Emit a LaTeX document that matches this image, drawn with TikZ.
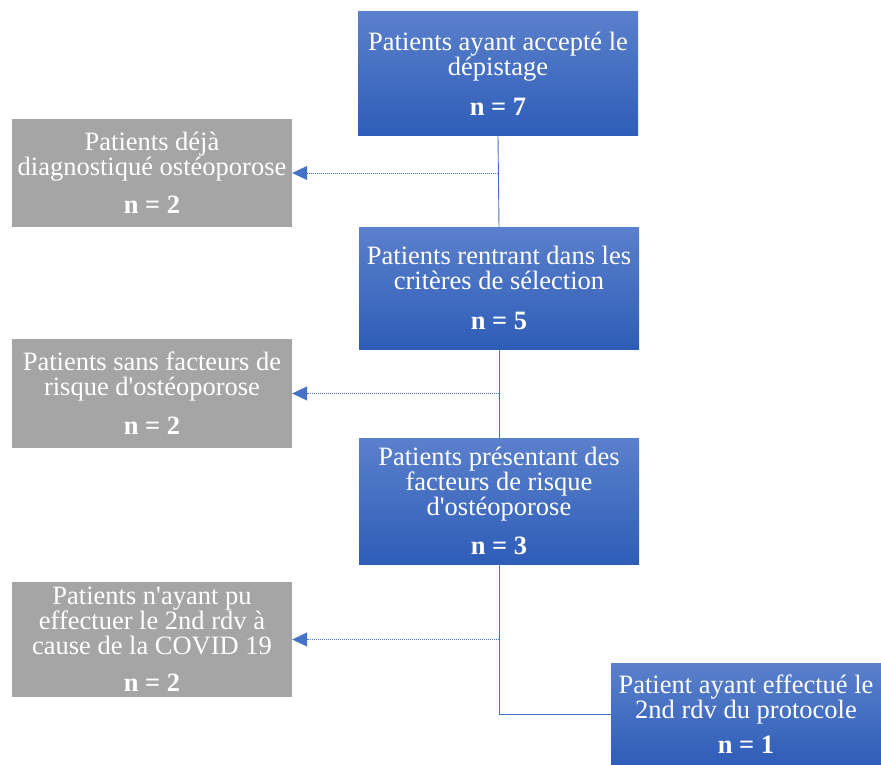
\documentclass[tikz,border=0pt]{standalone}
\usepackage{fontspec}
\setmainfont{Liberation Serif}
\usetikzlibrary{arrows.meta}
\definecolor{bluetop}{HTML}{5B80CC}
\definecolor{bluebot}{HTML}{2E5DB8}
\definecolor{greybox}{HTML}{A5A5A5}
\definecolor{lineblue}{HTML}{4472C4}
\tikzstyle{stage}=[rectangle,top color=bluetop,bottom color=bluebot,text=white,minimum width=280pt,align=center,inner sep=0pt,font=\fontsize{26.5}{25}\selectfont]
\tikzstyle{excl}=[rectangle,fill=greybox,text=white,minimum width=280pt,align=center,inner sep=0pt,font=\fontsize{26.5}{25}\selectfont]
\tikzstyle{flow}=[draw=lineblue,line width=0.9pt]
\tikzstyle{drop}=[draw=lineblue,line width=0.9pt,dash pattern=on 1pt off 1pt,-{Triangle[length=15pt,width=14pt]}]

\begin{document}
\begin{tikzpicture}[x=1pt,y=-1pt]
  \useasboundingbox (0,0) rectangle (881,765);
  \node[stage,minimum height=124pt] (acc) at (498,74) {Patients ayant accepté le\\ dépistage\\[15pt]\textbf{n = 7}};
  \node[stage,minimum height=122pt] (sel) at (499,288) {Patients rentrant dans les\\ critères de sélection\\[15pt]\textbf{n = 5}};
  \node[stage,minimum height=126pt] (fdr) at (499,501) {Patients présentant des\\ facteurs de risque\\ d\textquotesingle ostéoporose\\[14pt]\textbf{n = 3}};
  \node[stage,minimum height=102pt,minimum width=270pt] (rdv) at (746,714) {Patient ayant effectué le\\ 2nd rdv du protocole\\[10pt]\textbf{n = 1}};

  \node[excl,minimum height=108pt] (dej) at (152,173) {Patients déjà\\ diagnostiqué ostéoporose\\[13pt]\textbf{n = 2}};
  \node[excl,minimum height=109pt] (sans) at (152,393.5) {Patients sans facteurs de\\ risque d\textquotesingle ostéoporose\\[14pt]\textbf{n = 2}};
  \node[excl,minimum height=115pt] (covid) at (152,639.5) {Patients n\textquotesingle ayant pu\\ effectuer le 2nd rdv à\\ cause de la COVID 19\\[12pt]\textbf{n = 2}};

  \draw[flow] (acc.south) -- (sel.north);
  \draw[flow] (sel.south) -- (fdr.north);
  \draw[flow] (fdr.south) |- (rdv.west);

  \draw[drop] (acc.south |- dej.east) -- (dej.east);
  \draw[drop] (sel.south |- sans.east) -- (sans.east);
  \draw[drop] (fdr.south |- covid.east) -- (covid.east);
\end{tikzpicture}
\end{document}
